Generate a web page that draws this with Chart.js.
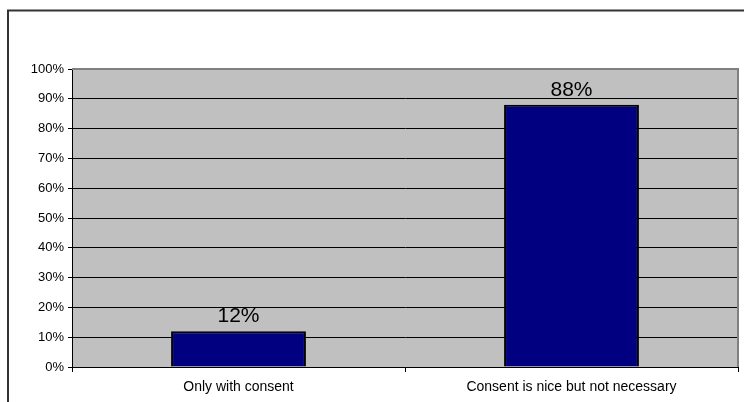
<!DOCTYPE html>
<html>
<head>
<meta charset="utf-8">
<title>Consent</title>
<script src="https://cdn.jsdelivr.net/npm/chart.js@4"></script>
<style>
  html, body { margin: 0; padding: 0; background: #fff; }
  canvas { display: block; }
</style>
</head>
<body>
<canvas id="grafico" width="744" height="402"></canvas>
<script>
const categorias = ['Only with consent', 'Consent is nice but not necessary'];
const porcentajes = [12, 88];
const ticksY = [0, 10, 20, 30, 40, 50, 60, 70, 80, 90, 100];

const fuente = "'Liberation Sans', Arial, sans-serif";

// marco exterior y fondo gris del area de trazado
const fondoPlugin = {
  id: 'fondo',
  beforeDraw(chart) {
    const { ctx, chartArea } = chart;
    ctx.save();
    ctx.fillStyle = '#fff';
    ctx.fillRect(0, 0, chart.width, chart.height);
    ctx.strokeStyle = '#333';
    ctx.lineWidth = 2;
    ctx.strokeRect(8, 10.5, 900, 600);
    ctx.fillStyle = '#C0C0C0';
    ctx.fillRect(chartArea.left, chartArea.top, chartArea.right - chartArea.left, chartArea.bottom - chartArea.top);
    ctx.restore();
  },
  beforeDatasetsDraw(chart) {
    const { ctx, chartArea } = chart;
    ctx.save();
    ctx.strokeStyle = '#808080';
    ctx.lineWidth = 2;
    ctx.beginPath();
    ctx.moveTo(chartArea.left, chartArea.top);
    ctx.lineTo(chartArea.right, chartArea.top);
    ctx.lineTo(chartArea.right, chartArea.bottom);
    ctx.stroke();
    ctx.restore();
  }
};

// etiqueta de porcentaje sobre cada barra
const etiquetasPlugin = {
  id: 'etiquetas',
  afterDatasetsDraw(chart) {
    const { ctx } = chart;
    const meta = chart.getDatasetMeta(0);
    ctx.save();
    ctx.fillStyle = '#000';
    ctx.font = '21px ' + fuente;
    ctx.textAlign = 'center';
    ctx.textBaseline = 'alphabetic';
    meta.data.forEach((barra, i) => {
      ctx.fillText(porcentajes[i] + '%', barra.x, barra.y - 9);
    });
    ctx.restore();
  }
};

new Chart(document.getElementById('grafico'), {
  type: 'bar',
  data: {
    labels: categorias,
    datasets: [{
      data: porcentajes,
      backgroundColor: '#000080',
      borderColor: '#000',
      borderWidth: 2,
      barPercentage: 0.405,
      categoryPercentage: 1
    }]
  },
  options: {
    responsive: false,
    animation: false,
    layout: { padding: { top: 69, right: 6, left: 0, bottom: 0 } },
    plugins: {
      legend: { display: false },
      tooltip: { enabled: false }
    },
    scales: {
      x: {
        offset: true,
        afterFit(scale) { scale.height = 35; },
        grid: {
          offset: true,
          drawOnChartArea: false,
          color: '#000',
          tickLength: 5
        },
        border: { color: '#000', width: 1 },
        ticks: {
          color: '#000',
          font: { family: fuente, size: 14 },
          padding: 7,
          maxRotation: 0
        }
      },
      y: {
        min: 0,
        max: 100,
        afterFit(scale) { scale.width = 72; },
        afterBuildTicks(scale) { scale.ticks = ticksY.map(v => ({ value: v })); },
        grid: {
          color: '#000',
          tickLength: 4
        },
        border: { color: '#000', width: 1 },
        ticks: {
          color: '#000',
          font: { family: fuente, size: 13 },
          padding: 4,
          callback: v => v + '%'
        }
      }
    }
  },
  plugins: [fondoPlugin, etiquetasPlugin]
});
</script>
</body>
</html>
